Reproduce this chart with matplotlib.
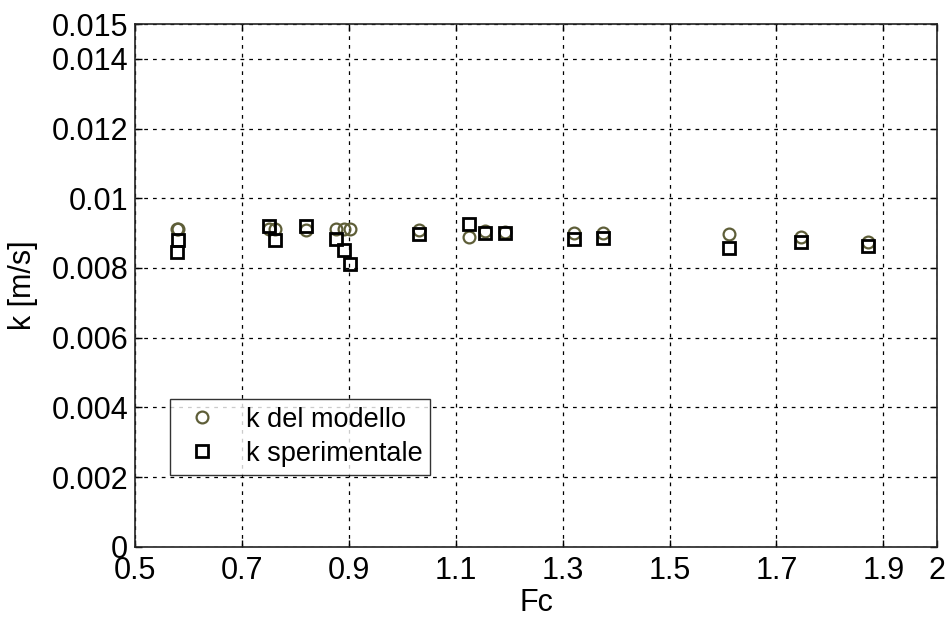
import matplotlib
matplotlib.use("Agg")
import matplotlib.pyplot as plt

plt.rcParams['font.family'] = ['Liberation Sans', 'DejaVu Sans']

# Froude-like coefficient Fc for each run
fc = [0.5774, 0.5805, 0.7508, 0.7615, 0.8195, 0.8751, 0.8912, 0.9018,
      1.0304, 1.1246, 1.1551, 1.1920, 1.3210, 1.3748, 1.6106, 1.7459, 1.8707]

# k predicted by the model [m/s]
k_model = [0.00913, 0.00912, 0.00912, 0.00911, 0.00910, 0.00911, 0.00911, 0.00911,
           0.00910, 0.00889, 0.00906, 0.00903, 0.00901, 0.00899, 0.00896, 0.00889, 0.00875]

# k measured [m/s]
k_exp = [0.00846, 0.00881, 0.00920, 0.00879, 0.00920, 0.00884, 0.00851, 0.00812,
         0.00897, 0.00927, 0.00901, 0.00901, 0.00882, 0.00887, 0.00858, 0.00873, 0.00862]

xticks = [0.5, 0.7, 0.9, 1.1, 1.3, 1.5, 1.7, 1.9, 2.0]
xticklabels = ['0.5', '0.7', '0.9', '1.1', '1.3', '1.5', '1.7', '1.9', '2']
yticks = [0, 0.002, 0.004, 0.006, 0.008, 0.01, 0.012, 0.014, 0.015]
yticklabels = ['0', '0.002', '0.004', '0.006', '0.008', '0.01', '0.012', '0.014', '0.015']

fig = plt.figure(figsize=(9.5, 6.19), dpi=100)
ax = fig.add_axes([0.1424, 0.1168, 0.8436, 0.8444])

ax.plot(fc, k_model, linestyle='none', marker='o', markersize=8.5,
        markerfacecolor='none', markeredgecolor='#5e5e38', markeredgewidth=1.6,
        label='k del modello')
ax.plot(fc, k_exp, linestyle='none', marker='s', markersize=8,
        markerfacecolor='none', markeredgecolor='black', markeredgewidth=2.0,
        label='k sperimentale')

ax.set_xlim(0.5, 2.0)
ax.set_ylim(0, 0.015)
ax.set_xticks(xticks)
ax.set_xticklabels(xticklabels)
ax.set_yticks(yticks)
ax.set_yticklabels(yticklabels)

ax.grid(True, color='black', linestyle=(0, (3, 4)), linewidth=0.9)
ax.tick_params(direction='in', length=5, width=1, labelsize=22,
               top=True, right=True)
ax.tick_params(axis='x', pad=7)
ax.tick_params(axis='y', pad=5)
for s in ax.spines.values():
    s.set_linewidth(1.2)
    s.set_color('#222222')

ax.set_xlabel('Fc', fontsize=22, labelpad=1)
ax.set_ylabel('k [m/s]', fontsize=22, labelpad=10)

leg = ax.legend(loc='lower left', bbox_to_anchor=(0.043, 0.137), fontsize=19.5,
                frameon=True, fancybox=False, edgecolor='black', borderaxespad=0,
                handletextpad=0.7, borderpad=0.3, labelspacing=0.3, handlelength=1.8)
leg.get_frame().set_linewidth(1.0)

fig.savefig('out.png', dpi=100, facecolor='white')
